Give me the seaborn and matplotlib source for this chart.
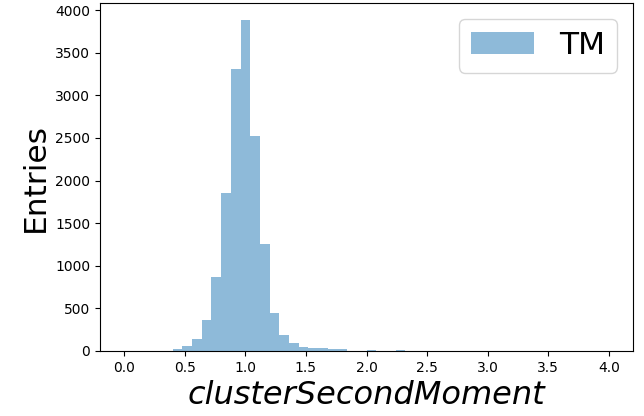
import numpy as np
import pandas as pd
import matplotlib
matplotlib.use("Agg")
import matplotlib.pyplot as plt
import seaborn as sns

# ----------------------------------------------
# DATA  (counts per bin, 50 bins on [0, 4])
# ----------------------------------------------
BIN_EDGES = [round(0.08 * k, 2) for k in range(51)]
COUNTS = [
    0, 0, 0, 0, 0, 20, 55, 135, 360, 870,
    1860, 3310, 3890, 2525, 1260, 450, 190, 95, 45, 40,
    38, 20, 18, 4, 3, 15, 3, 2, 15, 2,
    0, 0, 0, 0, 0, 0, 0, 0, 0, 0,
    0, 0, 0, 0, 0, 0, 0, 0, 0, 0,
]
LABEL = "TM"
XLABEL = "clusterSecondMoment"
YLABEL = "Entries"

edges = np.array(BIN_EDGES)
centers = 0.5 * (edges[:-1] + edges[1:])
df = pd.DataFrame({"x": centers, "w": COUNTS})

fig, ax = plt.subplots(figsize=(6.44, 4.16), dpi=100)
fig.subplots_adjust(left=100 / 644, right=633 / 644, top=1 - 3 / 416, bottom=1 - 351 / 416)

sns.histplot(data=df, x="x", weights="w", bins=BIN_EDGES, color="C0",
             alpha=0.5, linewidth=0, label=LABEL, ax=ax)

ax.set_xlabel(XLABEL, fontsize=23, style="italic")
ax.set_ylabel(YLABEL, fontsize=22.5)
ax.set_xticks(np.arange(0, 4.01, 0.5))
ax.legend(fontsize=22.5, loc="upper right")

plt.savefig("out.png", dpi=100)
plt.close()
